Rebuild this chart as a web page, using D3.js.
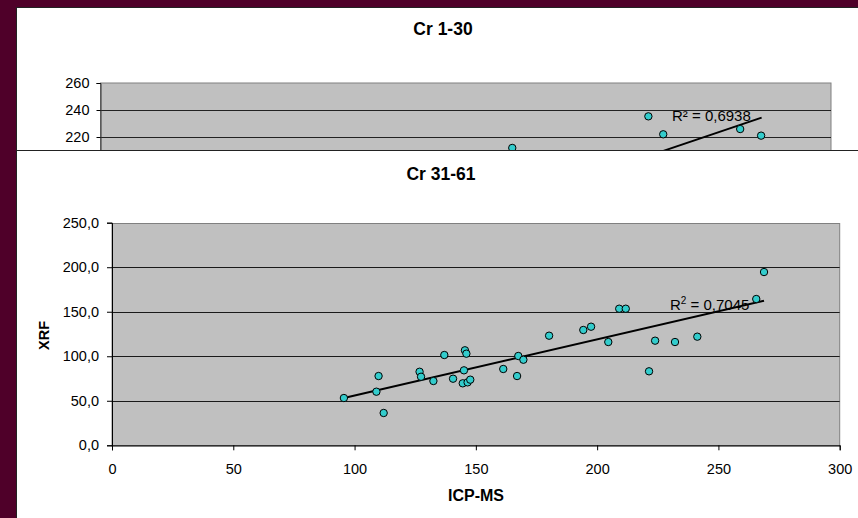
<!DOCTYPE html>
<html>
<head>
<meta charset="utf-8">
<script src="https://cdn.jsdelivr.net/npm/d3@7"></script>
<style>
  html, body { margin: 0; padding: 0; background: #4f0029; }
  svg { display: block; }
  text { font-family: Arial, "Liberation Sans", sans-serif; fill: #000; }
</style>
</head>
<body>
<svg id="chart" width="858" height="518"></svg>
<script>
// Cr 1-30 (only the upper part of this chart is visible)
const topIcp = [225.0, 231.1, 262.7, 271.3, 169.1];
const topXrf = [235.3, 222.0, 225.9, 221.0, 211.9];
const topTrend = { slope: 0.61, intercept: 68.7, from: 150, to: 271.5 };
const topYTicks = [220, 240, 260];
const topR2 = "R\u00b2 = 0,6938";

// Cr 31-61
const icp = [95.6, 109.9, 109.0, 112.0, 126.8, 127.4, 132.5, 137.0, 140.6, 145.5,
             146.1, 145.1, 144.6, 146.6, 147.7, 161.3, 167.5, 169.6, 167.0, 180.2,
             194.3, 197.5, 209.1, 211.8, 204.6, 223.9, 232.1, 221.4, 241.3, 268.8, 265.6];
const xrf = [53.1, 77.8, 60.2, 36.3, 82.6, 77.0, 72.2, 101.4, 74.8, 106.7,
             102.9, 84.2, 69.6, 70.7, 73.7, 85.7, 100.3, 96.1, 77.8, 123.1,
             129.5, 133.2, 153.4, 153.4, 116.0, 117.5, 116.0, 83.1, 122.0, 194.6, 164.3];
const xTicks = [0, 50, 100, 150, 200, 250, 300];
const yTicks = [0, 50, 100, 150, 200, 250];
const r2Value = "0,7045";

const svg = d3.select("#chart");
const dotFill = "#33cccc";
const plotFill = "#c0c0c0";
const font = "Arial, 'Liberation Sans', sans-serif";

function linearFit(xs, ys) {
  const n = xs.length;
  const mx = d3.mean(xs), my = d3.mean(ys);
  let sxy = 0, sxx = 0;
  for (let i = 0; i < n; i++) { sxy += (xs[i] - mx) * (ys[i] - my); sxx += (xs[i] - mx) ** 2; }
  const slope = sxy / sxx;
  return { slope, intercept: my - slope * mx };
}

// ---------- top panel ----------
const topPanel = svg.append("g");
topPanel.append("rect").attr("x", 16.5).attr("y", 7.5).attr("width", 860).attr("height", 160)
  .attr("fill", "#fff").attr("stroke", "#222");
topPanel.append("text").attr("x", 443).attr("y", 35).attr("text-anchor", "middle")
  .attr("font-size", 17.5).attr("font-weight", "bold").text("Cr 1-30");

const tx = d3.scaleLinear().domain([0, 300]).range([100.5, 831]);
const ty = d3.scaleLinear().domain([200, 260]).range([164, 83]);
topPanel.append("rect").attr("x", tx(0)).attr("y", ty(260)).attr("width", tx(300) - tx(0))
  .attr("height", 120).attr("fill", plotFill).attr("stroke", "#808080");
topPanel.append("g").selectAll("line").data(topYTicks.filter(d => d < 260)).join("line")
  .attr("x1", tx(0)).attr("x2", tx(300))
  .attr("y1", d => Math.round(ty(d)) + 0.5).attr("y2", d => Math.round(ty(d)) + 0.5)
  .attr("stroke", "#222");
const topAxis = topPanel.append("g").attr("transform", `translate(${tx(0)},0)`)
  .call(d3.axisLeft(ty).tickValues(topYTicks).tickSize(4).tickPadding(7));
topAxis.select(".domain").attr("stroke", "#333");
topAxis.selectAll("text").attr("font-size", 14.5).attr("font-family", font).attr("fill", "#000");
topPanel.append("line")
  .attr("x1", tx(topTrend.from)).attr("y1", ty(topTrend.intercept + topTrend.slope * topTrend.from))
  .attr("x2", tx(topTrend.to)).attr("y2", ty(topTrend.intercept + topTrend.slope * topTrend.to))
  .attr("stroke", "#000").attr("stroke-width", 2);
topPanel.append("g").selectAll("circle").data(topIcp.map((v, i) => [v, topXrf[i]])).join("circle")
  .attr("cx", d => tx(d[0])).attr("cy", d => ty(d[1])).attr("r", 3.7)
  .attr("fill", dotFill).attr("stroke", "#000").attr("stroke-width", 1);
topPanel.append("text").attr("x", 672).attr("y", 121).attr("font-size", 15).attr("fill", "#111").text(topR2);

// ---------- bottom panel ----------
const panel = svg.append("g");
panel.append("rect").attr("x", 16.5).attr("y", 150.5).attr("width", 860).attr("height", 400)
  .attr("fill", "#fff").attr("stroke", "#222");
panel.append("text").attr("x", 441).attr("y", 180).attr("text-anchor", "middle")
  .attr("font-size", 17.5).attr("font-weight", "bold").text("Cr 31-61");

const x = d3.scaleLinear().domain([0, 300]).range([112, 839.7]);
const y = d3.scaleLinear().domain([0, 250]).range([445.3, 222.7]);

panel.append("rect").attr("x", x(0)).attr("y", Math.round(y(250)) + 0.5)
  .attr("width", x(300) - x(0)).attr("height", y(0) - y(250))
  .attr("fill", plotFill).attr("stroke", "#808080");
panel.append("g").selectAll("line").data(yTicks.filter(d => d > 0 && d < 250)).join("line")
  .attr("x1", x(0)).attr("x2", x(300))
  .attr("y1", d => Math.round(y(d)) + 0.5).attr("y2", d => Math.round(y(d)) + 0.5)
  .attr("stroke", "#1a1a1a");

const yAxis = panel.append("g").attr("transform", `translate(${x(0)},0)`)
  .call(d3.axisLeft(y).tickValues(yTicks).tickSize(5).tickPadding(8)
    .tickFormat(d => d3.format(".1f")(d).replace(".", ",")));
const xAxis = panel.append("g").attr("transform", `translate(0,${y(0)})`)
  .call(d3.axisBottom(x).tickValues(xTicks).tickSize(5).tickPadding(13));
[yAxis, xAxis].forEach(a => {
  a.select(".domain").attr("stroke", "#000");
  a.selectAll(".tick line").attr("stroke", "#000");
  a.selectAll("text").attr("font-size", 14.5).attr("font-family", font).attr("fill", "#000");
});

// least-squares trend line over the data range
const fit = linearFit(icp, xrf);
const x0 = d3.min(icp), x1 = d3.max(icp);
panel.append("line")
  .attr("x1", x(x0)).attr("y1", y(fit.intercept + fit.slope * x0))
  .attr("x2", x(x1)).attr("y2", y(fit.intercept + fit.slope * x1))
  .attr("stroke", "#000").attr("stroke-width", 2);

panel.append("g").selectAll("circle").data(icp.map((v, i) => [v, xrf[i]])).join("circle")
  .attr("cx", d => x(d[0])).attr("cy", d => y(d[1])).attr("r", 3.7)
  .attr("fill", dotFill).attr("stroke", "#000").attr("stroke-width", 1);

const r2 = panel.append("text").attr("x", 670).attr("y", 310).attr("font-size", 15).attr("fill", "#111");
r2.append("tspan").text("R");
r2.append("tspan").attr("font-size", 10).attr("dy", -6).text("2");
r2.append("tspan").attr("dy", 6).text(" = " + r2Value);

panel.append("text").attr("transform", "translate(48.5,335.5) rotate(-90)")
  .attr("text-anchor", "middle").attr("font-size", 14.5).attr("font-weight", "bold").text("XRF");
panel.append("text").attr("x", 476).attr("y", 501).attr("text-anchor", "middle")
  .attr("font-size", 16).attr("font-weight", "bold").text("ICP-MS");
</script>
</body>
</html>
